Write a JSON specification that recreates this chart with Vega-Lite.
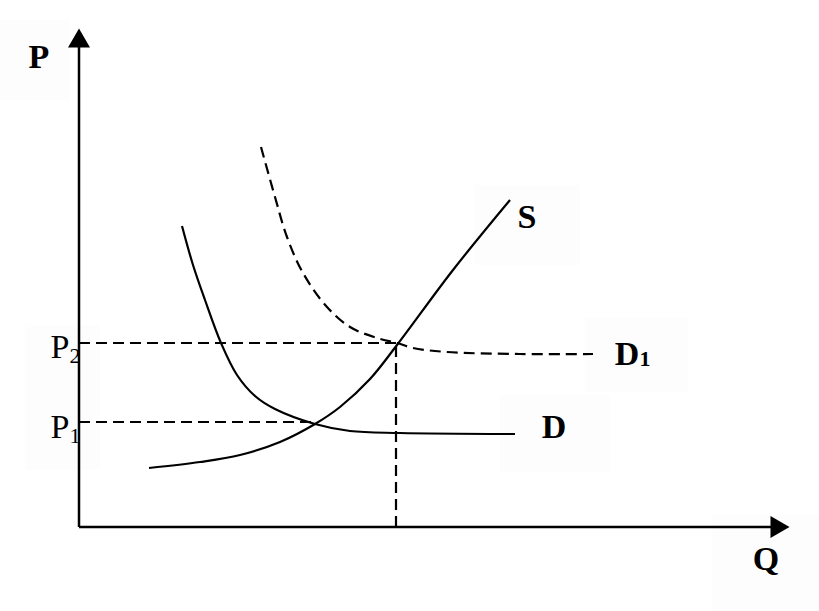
{
  "$schema": "https://vega.github.io/schema/vega-lite/v6.json",
  "width": 819,
  "height": 611,
  "padding": 0,
  "autosize": {"type": "none"},
  "background": "white",
  "config": {"view": {"stroke": null}},
  "datasets": {
    "boxes": [
      {"q1": -79, "q2": -9, "p1": 427, "p2": 507},
      {"q1": 396, "q2": 501, "p1": 262, "p2": 342},
      {"q1": 506, "q2": 609, "p1": 135, "p2": 209},
      {"q1": 421, "q2": 531, "p1": 55, "p2": 132},
      {"q1": 633, "q2": 740, "p1": -84, "p2": 12},
      {"q1": -54, "q2": 21, "p1": 57, "p2": 202}
    ],
    "axes": [
      {"q1": 0, "p1": 0, "q2": 0, "p2": 480},
      {"q1": 0, "p1": 0, "q2": 692, "p2": 0}
    ],
    "heads": [
      {"dir": "up", "q": 0, "p": 489},
      {"dir": "right", "q": 701, "p": 0}
    ],
    "guides": [
      {"q1": 0, "p1": 184, "q2": 318, "p2": 184},
      {"q1": 0, "p1": 105, "q2": 236, "p2": 105},
      {"q1": 317, "p1": 0, "q2": 317, "p2": 184}
    ],
    "curves": [
      {"series": "S", "q": 70, "p": 59},
      {"series": "S", "q": 121, "p": 65},
      {"series": "S", "q": 161, "p": 72},
      {"series": "S", "q": 201, "p": 85},
      {"series": "S", "q": 236, "p": 103},
      {"series": "S", "q": 261, "p": 120},
      {"series": "S", "q": 291, "p": 148},
      {"series": "S", "q": 318, "p": 182},
      {"series": "S", "q": 374, "p": 257},
      {"series": "S", "q": 431, "p": 327},
      {"series": "D", "q": 103, "p": 301},
      {"series": "D", "q": 114, "p": 262},
      {"series": "D", "q": 126, "p": 227},
      {"series": "D", "q": 142, "p": 184},
      {"series": "D", "q": 158, "p": 152},
      {"series": "D", "q": 176, "p": 131},
      {"series": "D", "q": 196, "p": 118},
      {"series": "D", "q": 236, "p": 103},
      {"series": "D", "q": 271, "p": 96},
      {"series": "D", "q": 321, "p": 94},
      {"series": "D", "q": 436, "p": 93},
      {"series": "D1", "q": 182, "p": 380},
      {"series": "D1", "q": 196, "p": 330},
      {"series": "D1", "q": 208, "p": 290},
      {"series": "D1", "q": 224, "p": 254},
      {"series": "D1", "q": 248, "p": 220},
      {"series": "D1", "q": 271, "p": 200},
      {"series": "D1", "q": 298, "p": 189},
      {"series": "D1", "q": 318, "p": 184},
      {"series": "D1", "q": 334, "p": 179},
      {"series": "D1", "q": 368, "p": 175},
      {"series": "D1", "q": 441, "p": 173},
      {"series": "D1", "q": 514, "p": 173}
    ],
    "boldLabels": [
      {"label": "P", "q": -40, "p": 459},
      {"label": "Q", "q": 687, "p": -43},
      {"label": "S", "q": 448, "p": 299},
      {"label": "D", "q": 548, "p": 162},
      {"label": "D", "q": 475, "p": 89}
    ],
    "boldSubs": [
      {"label": "1", "q": 566, "p": 161}
    ],
    "plainLabels": [
      {"label": "P", "q": -19, "p": 169},
      {"label": "P", "q": -19, "p": 89}
    ],
    "plainSubs": [
      {"label": "2", "q": -4, "p": 164},
      {"label": "1", "q": -4, "p": 84}
    ]
  },
  "encoding": {
    "x": {"field": "q", "type": "quantitative", "scale": {"domain": [-79, 740], "nice": false, "zero": false}, "axis": null},
    "y": {"field": "p", "type": "quantitative", "scale": {"domain": [-84, 527], "nice": false, "zero": false}, "axis": null}
  },
  "layer": [
    {
      "data": {"name": "boxes"},
      "mark": {"type": "rect", "fill": "#fdfdfd", "stroke": null},
      "encoding": {
        "x": {"field": "q1", "type": "quantitative"},
        "x2": {"field": "q2"},
        "y": {"field": "p1", "type": "quantitative"},
        "y2": {"field": "p2"}
      }
    },
    {
      "data": {"name": "axes"},
      "mark": {"type": "rule", "color": "black", "strokeWidth": 2.5},
      "encoding": {
        "x": {"field": "q1", "type": "quantitative"},
        "x2": {"field": "q2"},
        "y": {"field": "p1", "type": "quantitative"},
        "y2": {"field": "p2"}
      }
    },
    {
      "data": {"name": "heads"},
      "transform": [{"filter": "datum.dir === 'up'"}],
      "mark": {"type": "point", "shape": "triangle-up", "filled": true, "color": "black", "opacity": 1, "size": 484}
    },
    {
      "data": {"name": "heads"},
      "transform": [{"filter": "datum.dir === 'right'"}],
      "mark": {"type": "point", "shape": "triangle-right", "filled": true, "color": "black", "opacity": 1, "size": 484}
    },
    {
      "data": {"name": "guides"},
      "mark": {"type": "rule", "color": "black", "strokeWidth": 2.2, "strokeDash": [11, 6]},
      "encoding": {
        "x": {"field": "q1", "type": "quantitative"},
        "x2": {"field": "q2"},
        "y": {"field": "p1", "type": "quantitative"},
        "y2": {"field": "p2"}
      }
    },
    {
      "data": {"name": "curves"},
      "transform": [{"filter": "datum.series !== 'D1'"}],
      "mark": {"type": "line", "color": "black", "strokeWidth": 2.2, "interpolate": "catmull-rom"},
      "encoding": {"detail": {"field": "series", "type": "nominal"}}
    },
    {
      "data": {"name": "curves"},
      "transform": [{"filter": "datum.series === 'D1'"}],
      "mark": {"type": "line", "color": "black", "strokeWidth": 2.2, "interpolate": "catmull-rom", "strokeDash": [11, 6]},
      "encoding": {"detail": {"field": "series", "type": "nominal"}}
    },
    {
      "data": {"name": "boldLabels"},
      "mark": {"type": "text", "font": "Liberation Serif", "fontWeight": "bold", "fontSize": 34, "align": "center", "baseline": "alphabetic", "color": "black"},
      "encoding": {"text": {"field": "label"}}
    },
    {
      "data": {"name": "boldSubs"},
      "mark": {"type": "text", "font": "Liberation Serif", "fontWeight": "bold", "fontSize": 22, "align": "center", "baseline": "alphabetic", "color": "black"},
      "encoding": {"text": {"field": "label"}}
    },
    {
      "data": {"name": "plainLabels"},
      "mark": {"type": "text", "font": "Liberation Serif", "fontSize": 34, "align": "center", "baseline": "alphabetic", "color": "black"},
      "encoding": {"text": {"field": "label"}}
    },
    {
      "data": {"name": "plainSubs"},
      "mark": {"type": "text", "font": "Liberation Serif", "fontSize": 22, "align": "center", "baseline": "alphabetic", "color": "black"},
      "encoding": {"text": {"field": "label"}}
    }
  ]
}
